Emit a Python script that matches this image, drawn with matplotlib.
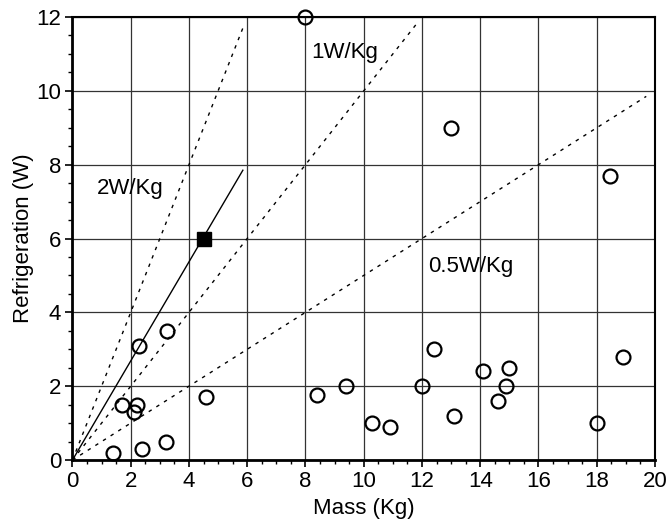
import numpy as np
import matplotlib
matplotlib.use('Agg')
import matplotlib.pyplot as plt
from matplotlib.ticker import MultipleLocator

plt.rcParams['font.family'] = ['Liberation Sans', 'DejaVu Sans']

# measured systems: mass (Kg) and refrigeration (W)
mass = [1.4, 2.4, 3.2, 1.7, 2.2, 2.1, 2.3, 3.25, 4.6, 8.4, 9.4, 10.3, 10.9,
        12.0, 12.4, 13.1, 14.1, 14.6, 14.9, 15.0, 18.0, 18.9, 13.0, 18.45, 8.0]
refrig = [0.2, 0.3, 0.5, 1.5, 1.5, 1.3, 3.1, 3.5, 1.7, 1.75, 2.0, 1.0, 0.9,
          2.0, 3.0, 1.2, 2.4, 1.6, 2.0, 2.5, 1.0, 2.8, 9.0, 7.7, 12.0]

# highlighted point
sq_mass = [4.5]
sq_refrig = [6.0]

# specific power reference lines (W/Kg) and their x extent
ref_slopes = [2.0, 1.0, 0.5]
ref_xmax = [5.85, 11.9, 19.7]
ref_labels = ['2W/Kg', '1W/Kg', '0.5W/Kg']
label_pos = [(0.85, 7.35), (8.2, 11.05), (12.2, 5.25)]

# fitted trend line
fit_x = [0.0, 5.85]
fit_y = [0.0, 7.85]

fig = plt.figure(figsize=(6.68, 5.27), dpi=100)
ax = fig.add_axes([0.1085, 0.1271, 0.8720, 0.8406])

for s, xm in zip(ref_slopes, ref_xmax):
    xx = np.array([0.0, xm])
    ax.plot(xx, s * xx, color='k', lw=1.0, linestyle=(0, (2.5, 4)), zorder=3)

ax.plot(fit_x, fit_y, color='k', lw=1.0, zorder=3)

ax.plot(mass, refrig, 'o', mfc='none', mec='k', mew=1.6, ms=10, zorder=4,
        clip_on=False)
ax.plot(sq_mass, sq_refrig, 's', color='k', ms=9.5, zorder=5)

for lab, (tx, ty) in zip(ref_labels, label_pos):
    ax.text(tx, ty, lab, fontsize=16, va='center', ha='left')

ax.set_xlim(0, 20)
ax.set_ylim(0, 12)
ax.xaxis.set_major_locator(MultipleLocator(2))
ax.xaxis.set_minor_locator(MultipleLocator(0.5))
ax.yaxis.set_major_locator(MultipleLocator(2))
ax.yaxis.set_minor_locator(MultipleLocator(0.5))
ax.grid(True, which='major', color='#333333', lw=0.9)
ax.set_axisbelow(True)

ax.tick_params(which='major', direction='out', length=5, width=1.2,
               labelsize=16, pad=3)
ax.tick_params(which='minor', direction='out', length=3, width=1.0)

for side in ['left', 'bottom']:
    ax.spines[side].set_linewidth(2.0)
for side in ['top', 'right']:
    ax.spines[side].set_linewidth(1.5)

ax.set_xlabel('Mass (Kg)', fontsize=16, labelpad=4)
ax.set_ylabel('Refrigeration (W)', fontsize=16, labelpad=2)

plt.savefig('out.png', dpi=100)
